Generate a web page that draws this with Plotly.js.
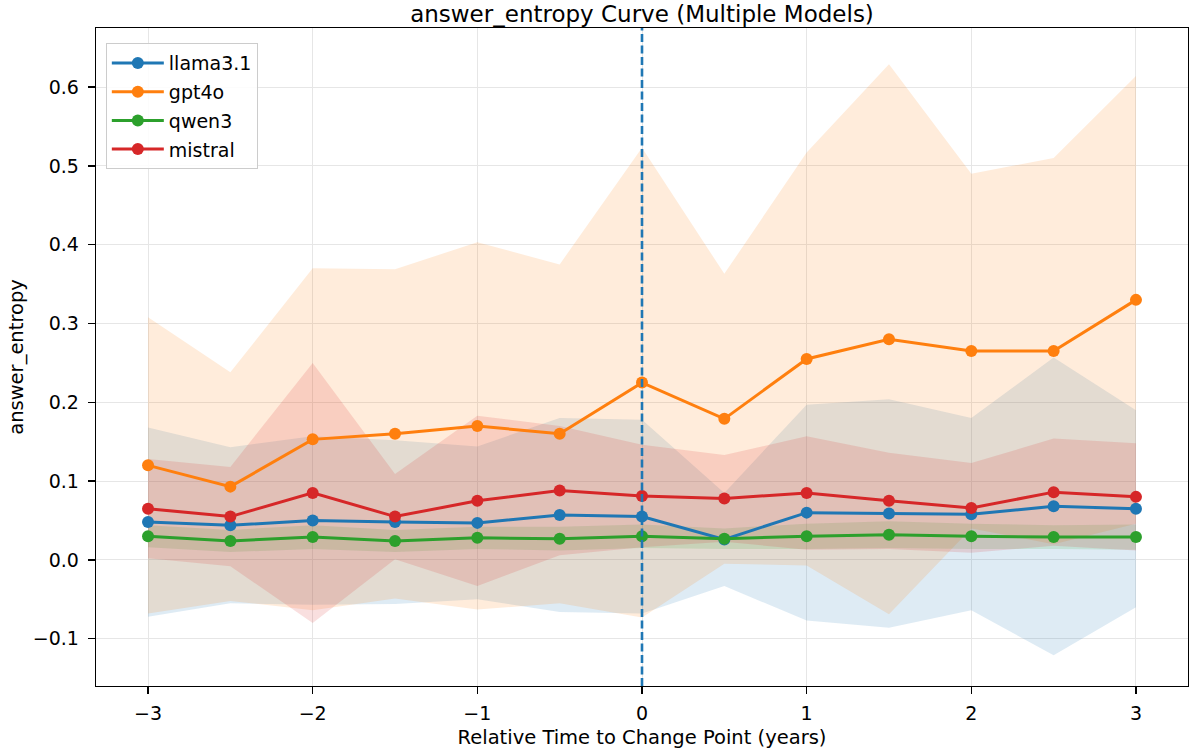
<!DOCTYPE html>
<html>
<head>
<meta charset="utf-8">
<script src="https://cdn.plot.ly/plotly-3.0.1.min.js"></script>
<style>html,body{margin:0;padding:0;background:#fff;}#chart{width:1192px;height:749px;}</style>
</head>
<body>
<div id="chart"></div>
<script>
const xVals = [-3, -2.5, -2, -1.5, -1, -0.5, 0, 0.5, 1, 1.5, 2, 2.5, 3];
const models = ["llama3.1", "gpt4o", "qwen3", "mistral"];
const colors = ["#1f77b4", "#ff7f0e", "#2ca02c", "#d62728"];
const xTickVals = [-3, -2, -1, 0, 1, 2, 3];
const xTickText = ['−3','−2','−1','0','1','2','3'];
const yTickVals = [-0.1, 0, 0.1, 0.2, 0.3, 0.4, 0.5, 0.6];
const yTickText = ['−0.1','0.0','0.1','0.2','0.3','0.4','0.5','0.6'];

const llamaMean = [0.048, 0.044, 0.050, 0.048, 0.047, 0.057, 0.055, 0.026, 0.060, 0.059, 0.058, 0.068, 0.065];
const llamaStd  = [0.120, 0.099, 0.107, 0.104, 0.097, 0.123, 0.123, 0.059, 0.137, 0.145, 0.122, 0.189, 0.125];

const gptMean = [0.120, 0.093, 0.153, 0.160, 0.170, 0.160, 0.225, 0.179, 0.255, 0.280, 0.265, 0.265, 0.330];
const gptStd  = [0.188, 0.145, 0.217, 0.209, 0.233, 0.215, 0.298, 0.184, 0.262, 0.349, 0.225, 0.245, 0.284];

const qwenMean = [0.030, 0.024, 0.029, 0.024, 0.028, 0.027, 0.030, 0.027, 0.030, 0.032, 0.030, 0.029, 0.029];
const qwenStd  = [0.014, 0.014, 0.015, 0.014, 0.014, 0.015, 0.015, 0.013, 0.016, 0.017, 0.016, 0.015, 0.016];

const mistralMean = [0.065, 0.055, 0.085, 0.055, 0.075, 0.088, 0.081, 0.078, 0.085, 0.075, 0.066, 0.086, 0.080];
const mistralStd  = [0.063, 0.063, 0.165, 0.054, 0.108, 0.082, 0.065, 0.055, 0.072, 0.061, 0.057, 0.068, 0.068];

const means = [llamaMean, gptMean, qwenMean, mistralMean];
const stds = [llamaStd, gptStd, qwenStd, mistralStd];

function hexToRgba(hex, a) {
  const r = parseInt(hex.slice(1,3),16), g = parseInt(hex.slice(3,5),16), b = parseInt(hex.slice(5,7),16);
  return `rgba(${r},${g},${b},${a})`;
}

const traces = [];
models.forEach((m, k) => {
  const up = means[k].map((v,i) => v + stds[k][i]);
  const lo = means[k].map((v,i) => v - stds[k][i]);
  traces.push({
    x: xVals.concat(xVals.slice().reverse()),
    y: up.concat(lo.slice().reverse()),
    type: 'scatter', mode: 'lines', fill: 'toself',
    fillcolor: hexToRgba(colors[k], 0.15),
    line: {width: 0, color: 'rgba(0,0,0,0)'},
    hoverinfo: 'skip', showlegend: false
  });
});
models.forEach((m, k) => {
  traces.push({
    x: xVals, y: means[k], name: m, legendgroup: 'g' + k,
    type: 'scatter', mode: 'lines+markers',
    line: {color: colors[k], width: 3},
    marker: {color: colors[k], size: 12}
  });
});

const layout = {
  width: 1192, height: 749,
  margin: {l: 96, r: 4, t: 28, b: 63},
  paper_bgcolor: '#fff', plot_bgcolor: '#fff',
  font: {family: 'DejaVu Sans, sans-serif', color: '#000', size: 19},
  title: {text: 'answer_entropy Curve (Multiple Models)', x: 0.5, xref: 'paper', xanchor: 'center',
          y: 0.981, yref: 'container', yanchor: 'middle', font: {size: 23, color: '#000'}},
  xaxis: {
    range: [-3.316, 3.316], tickvals: xTickVals, ticktext: xTickText,
    showgrid: true, gridcolor: '#e6e6e6', gridwidth: 1, zeroline: false,
    showline: true, linecolor: '#000', linewidth: 1.3, mirror: true,
    ticks: 'outside', ticklen: 7, tickwidth: 1.3, tickcolor: '#000', tickfont: {size: 19},
    ticklabelstandoff: 3,
    title: {text: 'Relative Time to Change Point (years)', font: {size: 19.5}, standoff: 7}
  },
  yaxis: {
    range: [-0.16, 0.675], tickvals: yTickVals, ticktext: yTickText,
    showgrid: true, gridcolor: '#e6e6e6', gridwidth: 1, zeroline: false,
    showline: true, linecolor: '#000', linewidth: 1.3, mirror: true,
    ticks: 'outside', ticklen: 7, tickwidth: 1.3, tickcolor: '#000', tickfont: {size: 19},
    ticklabelstandoff: 5,
    title: {text: 'answer_entropy', font: {size: 19.5}, standoff: 4}
  },
  shapes: [{type: 'line', xref: 'x', yref: 'paper', x0: 0, x1: 0, y0: 0, y1: 1,
            line: {color: '#1f77b4', width: 2.6, dash: '8px,3.5px'}}],
  legend: {x: 0.009, y: 0.977, xanchor: 'left', yanchor: 'top',
           bgcolor: 'rgba(255,255,255,0.85)', bordercolor: '#cccccc', borderwidth: 1,
           font: {size: 19}, tracegroupgap: 1, itemwidth: 52},
  showlegend: true
};

Plotly.newPlot('chart', traces, layout, {displayModeBar: false, staticPlot: true});
</script>
</body>
</html>
